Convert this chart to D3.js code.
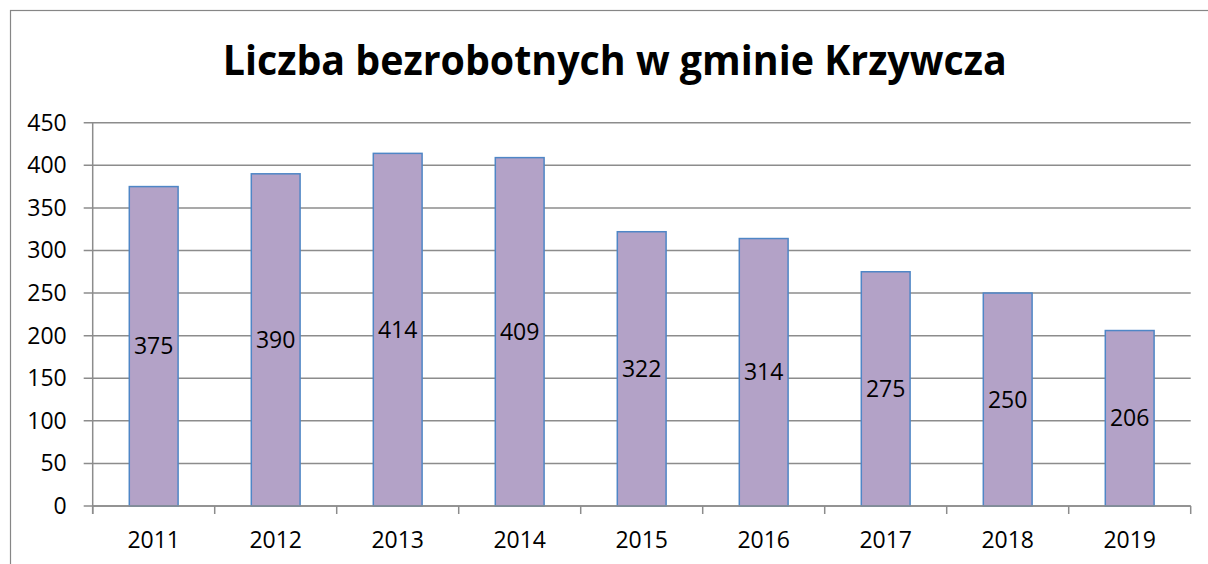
<!DOCTYPE html>
<html>
<head>
<meta charset="utf-8">
<script src="https://cdn.jsdelivr.net/npm/d3@7"></script>
<style>
  html, body { margin: 0; padding: 0; background: #fff; }
  svg { display: block; }
  text { font-family: "Open Sans", "Liberation Sans", sans-serif; fill: #000; }
</style>
</head>
<body>
<div id="chart"></div>
<script>
// dane z wykresu
const years = ["2011", "2012", "2013", "2014", "2015", "2016", "2017", "2018", "2019"];
const unemployed = [375, 390, 414, 409, 322, 314, 275, 250, 206];
const yTicks = [0, 50, 100, 150, 200, 250, 300, 350, 400, 450];
const title = "Liczba bezrobotnych w gminie Krzywcza";

const width = 1208;
const height = 564;
const plot = {left: 92.7, right: 1190.7, top: 122.7, bottom: 506};

const svg = d3.select("#chart")
    .append("svg")
    .attr("width", width)
    .attr("height", height);

// ramka wykresu
svg.append("rect")
    .attr("x", 10.5)
    .attr("y", 10.5)
    .attr("width", width + 20)
    .attr("height", height + 20)
    .attr("fill", "#fff")
    .attr("stroke", "#868686")
    .attr("stroke-width", 1.2);

const x = d3.scaleBand()
    .domain(years)
    .range([plot.left, plot.right])
    .paddingInner(0.6)
    .paddingOuter(0.3);

const y = d3.scaleLinear()
    .domain([0, 450])
    .range([plot.bottom, plot.top]);

// linie siatki
svg.append("g")
    .selectAll("line")
    .data(yTicks)
    .join("line")
        .attr("x1", plot.left - 9)
        .attr("x2", plot.right)
        .attr("y1", d => y(d))
        .attr("y2", d => y(d))
        .attr("stroke", "#8c8c8c")
        .attr("stroke-width", 1.5);

// os Y
const yAxis = svg.append("g")
    .attr("transform", `translate(${plot.left},0)`)
    .call(d3.axisLeft(y).tickValues(yTicks).tickSize(9).tickPadding(17));
yAxis.select(".domain")
    .attr("stroke", "#8c8c8c")
    .attr("stroke-width", 1.5)
    .attr("d", `M0,${plot.bottom + 8}V${plot.top}`);
yAxis.selectAll(".tick line").attr("stroke", "none");
yAxis.selectAll(".tick text")
    .attr("font-size", 23)
    .attr("font-family", "'Open Sans', sans-serif")
    .attr("fill", "#000");

// slupki
svg.append("g")
    .selectAll("rect")
    .data(unemployed)
    .join("rect")
        .attr("x", (d, i) => x(years[i]))
        .attr("y", d => y(d))
        .attr("width", x.bandwidth())
        .attr("height", d => y(0) - y(d))
        .attr("fill", "#B3A2C7")
        .attr("stroke", "#4F86C6")
        .attr("stroke-width", 1.5);

// os X
const boundary = d3.scaleLinear()
    .domain([0, years.length])
    .range([plot.left, plot.right]);
svg.append("g")
    .selectAll("line")
    .data(d3.range(years.length + 1))
    .join("line")
        .attr("x1", d => boundary(d))
        .attr("x2", d => boundary(d))
        .attr("y1", plot.bottom)
        .attr("y2", plot.bottom + 8)
        .attr("stroke", "#8c8c8c")
        .attr("stroke-width", 1.5);
svg.append("line")
    .attr("x1", plot.left)
    .attr("x2", plot.right)
    .attr("y1", plot.bottom)
    .attr("y2", plot.bottom)
    .attr("stroke", "#8c8c8c")
    .attr("stroke-width", 1.5);

const xAxis = svg.append("g")
    .attr("transform", `translate(0,${plot.bottom})`)
    .call(d3.axisBottom(x).tickSize(0).tickPadding(26));
xAxis.select(".domain").remove();
xAxis.selectAll(".tick text")
    .attr("font-size", 23)
    .attr("font-family", "'Open Sans', sans-serif")
    .attr("fill", "#000");

// etykiety danych
svg.append("g")
    .selectAll("text")
    .data(unemployed)
    .join("text")
        .attr("x", (d, i) => x(years[i]) + x.bandwidth() / 2)
        .attr("y", d => (y(d) + y(0)) / 2)
        .attr("dy", "0.35em")
        .attr("text-anchor", "middle")
        .attr("font-size", 23)
        .text(d => d);

// tytul
svg.append("text")
    .attr("x", 614.7)
    .attr("y", 75)
    .attr("text-anchor", "middle")
    .attr("font-size", 42)
    .attr("font-weight", "bold")
    .attr("textLength", 784)
    .attr("lengthAdjust", "spacingAndGlyphs")
    .text(title);
</script>
</body>
</html>
